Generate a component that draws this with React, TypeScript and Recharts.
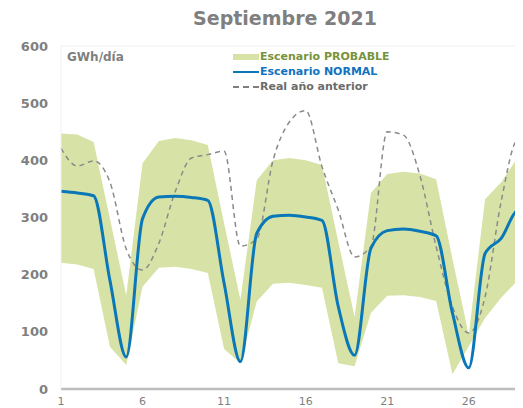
import React from "react";
import {
  Area,
  ComposedChart,
  Line,
  ReferenceLine,
  XAxis,
  YAxis,
} from "recharts";

const DAYS = [
  1, 2, 3, 4, 5, 6, 7, 8, 9, 10, 11, 12, 13, 14, 15, 16, 17, 18, 19, 20, 21, 22, 23, 24, 25, 26, 27, 28, 29, 30,
];

// Escenario PROBABLE band (GWh/día)
const PROBABLE_HIGH = [
  447, 445, 432, 298, 164, 395, 434, 439, 435, 427, 290, 156, 365, 400, 404, 400, 392, 258, 126, 343, 376, 380, 377,
  367, 228, 95, 332, 362, 405, 420,
];
const PROBABLE_LOW = [
  221, 218, 210, 74, 42, 179, 212, 214, 210, 203, 70, 45, 153, 184, 186, 182, 177, 45, 40, 133, 163, 164, 161, 154,
  26, 75, 124, 160, 190, 205,
];
const NORMAL = [
  346, 343, 338, 190, 56, 298, 336, 337, 335, 330, 185, 48, 272, 302, 304, 301, 295, 144, 59, 246, 277, 280, 276, 268,
  133, 37, 237, 264, 313, 318,
];
const REAL_PREV = [
  421, 390, 399, 362, 245, 208, 255, 345, 404, 410, 416, 250, 262, 400, 467, 487, 389, 313, 231, 249, 450, 444, 374,
  249, 144, 98, 161, 330, 435, 405,
];

const X_TICKS = [1, 6, 11, 16, 21, 26];
const Y_TICKS = [0, 100, 200, 300, 400, 500, 600];

const GRAY = "#7f7f7f";
const GREEN = "#d7e3a6";
const BLUE = "#0a78b8";
const FONT = "'DejaVu Sans', Verdana, sans-serif";

const data = DAYS.map((d, i) => ({
  day: d,
  probable: [PROBABLE_LOW[i], PROBABLE_HIGH[i]],
  normal: NORMAL[i],
  real: REAL_PREV[i],
}));

function LegendBox() {
  const row = { display: "flex", alignItems: "center", height: 15 } as const;
  return (
    <div
      style={{
        position: "absolute",
        left: 233,
        top: 49,
        fontFamily: FONT,
        fontWeight: "bold",
        fontSize: 11,
      }}
    >
      <div style={row}>
        <span style={{ width: 26, height: 6, background: GREEN, display: "inline-block" }} />
        <span style={{ color: "#77933c", marginLeft: 1 }}>Escenario PROBABLE</span>
      </div>
      <div style={row}>
        <span style={{ width: 26, height: 2, background: BLUE, display: "inline-block" }} />
        <span style={{ color: "#1172c0", marginLeft: 1 }}>Escenario NORMAL</span>
      </div>
      <div style={row}>
        <span style={{ width: 26, height: 0, borderTop: `2px dashed ${GRAY}`, display: "inline-block" }} />
        <span style={{ color: "#6b6b6b", marginLeft: 1 }}>Real año anterior</span>
      </div>
    </div>
  );
}

export default function App() {
  return (
    <div
      style={{
        position: "relative",
        width: 523,
        height: 408,
        margin: "-8px 0 0 -8px",
        overflow: "hidden",
        background: "#fff",
      }}
    >
      <div
        style={{
          position: "absolute",
          left: 0,
          top: 7,
          width: 570,
          textAlign: "center",
          fontFamily: FONT,
          fontWeight: "bold",
          fontSize: 19,
          color: GRAY,
        }}
      >
        Septiembre 2021
      </div>
      <ComposedChart width={540} height={408} data={data} margin={{ top: 46, right: 6, bottom: 0, left: 13 }}>
        <XAxis
          dataKey="day"
          type="number"
          domain={[1, 30]}
          ticks={X_TICKS}
          interval={0}
          height={19}
          tick={{ fill: GRAY, fontSize: 11, fontFamily: FONT }}
          axisLine={{ stroke: "#bdbdbd", strokeWidth: 2.5 }}
          tickLine={false}
        />
        <YAxis
          type="number"
          domain={[0, 600]}
          ticks={Y_TICKS}
          width={48}
          tick={{ fill: GRAY, fontSize: 13, fontWeight: "bold", fontFamily: FONT }}
          axisLine={{ stroke: "#f0f0f0" }}
          tickLine={false}
          tickMargin={7}
        />
        <ReferenceLine y={600} stroke="#f0f0f0" />
        <Area
          dataKey="probable"
          type="linear"
          fill={GREEN}
          fillOpacity={1}
          stroke="none"
          isAnimationActive={false}
        />
        <Line
          dataKey="real"
          type="monotone"
          stroke="#8a8a8a"
          strokeWidth={1.5}
          strokeDasharray="5 4"
          dot={false}
          isAnimationActive={false}
        />
        <Line
          dataKey="normal"
          type="monotone"
          stroke={BLUE}
          strokeWidth={3}
          dot={false}
          isAnimationActive={false}
        />
      </ComposedChart>
      <div
        style={{
          position: "absolute",
          left: 67,
          top: 50,
          fontFamily: FONT,
          fontWeight: "bold",
          fontSize: 12,
          color: GRAY,
        }}
      >
        GWh/día
      </div>
      <LegendBox />
    </div>
  );
}
